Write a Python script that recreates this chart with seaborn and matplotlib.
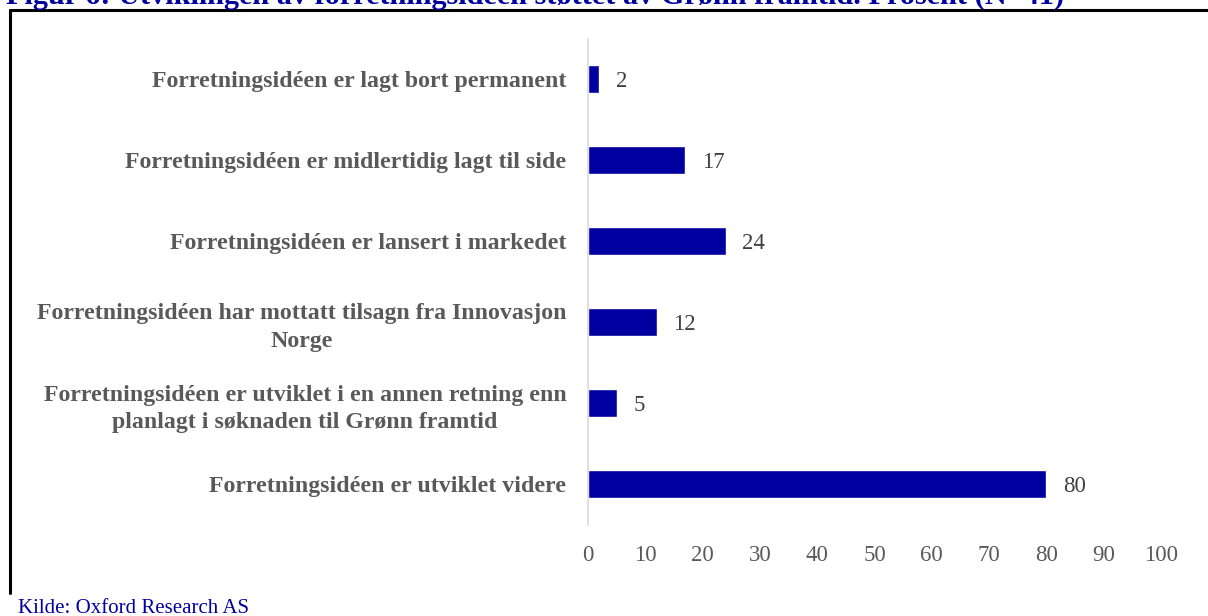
import matplotlib
matplotlib.use("Agg")
import matplotlib.pyplot as plt
import seaborn as sns
import pandas as pd
from matplotlib.lines import Line2D

categories = [
    "Forretningsidéen er lagt bort permanent",
    "Forretningsidéen er midlertidig lagt til side",
    "Forretningsidéen er lansert i markedet",
    "Forretningsidéen har mottatt tilsagn fra Innovasjon\nNorge",
    "Forretningsidéen er utviklet i en annen retning enn\nplanlagt i søknaden til Grønn framtid",
    "Forretningsidéen er utviklet videre",
]
values = [2, 17, 24, 12, 5, 80]
xticks = [0, 10, 20, 30, 40, 50, 60, 70, 80, 90, 100]

title = "Figur 6: Utviklingen av forretningsidéen støttet av Grønn framtid. Prosent (N=41)"
source = "Kilde: Oxford Research AS"

sns.set_theme(style="white")
plt.rcParams['font.family'] = ['Liberation Serif', 'DejaVu Serif']

W, H = 1208, 616
fig = plt.figure(figsize=(W / 100, H / 100), dpi=100)
ax = fig.add_axes([588 / W, 1 - 524.5 / H, 573 / W, 486 / H])

df = pd.DataFrame({"cat": categories, "val": values})
bar_color = "#0000A0"
sns.barplot(data=df, x="val", y="cat", orient="h", color=bar_color,
            width=0.35, saturation=1, ax=ax)

for p, v in zip(ax.patches, values):
    y = p.get_y() + p.get_height() / 2
    ax.text(v + 2.9, y, f"{v}", va="center_baseline", ha="left", fontsize=16.5, color="#404040")

ax.set_xlim(0, 100)
ax.set_ylim(5.5, -0.5)
ax.set_xticks(xticks)
ax.set_xticklabels([str(t) for t in xticks], fontsize=16.5, color="#595959")
ax.tick_params(axis="x", length=0, pad=15)
ax.tick_params(axis="y", length=0, pad=15.5)
ax.set_yticks(range(len(categories)))
ax.set_yticklabels(categories, fontsize=17.2, fontweight="bold", color="#595959",
                   ha="right", multialignment="center", linespacing=1.38)

ax.set_xlabel("")
ax.set_ylabel("")
for s in ["top", "right", "bottom"]:
    ax.spines[s].set_visible(False)
ax.spines["left"].set_color("#D9D9D9")
ax.spines["left"].set_linewidth(1.2)
ax.grid(False)

# frame (top and left borders)
fig.add_artist(Line2D([10 / W, 1.01], [1 - 9.5 / H, 1 - 9.5 / H], transform=fig.transFigure,
                      color="black", linewidth=2.2))
fig.add_artist(Line2D([10 / W, 10 / W], [1 - 9.5 / H, 1 - 593 / H], transform=fig.transFigure,
                      color="black", linewidth=2.2))

fig.text(6 / W, 1 - 4 / H, title, fontsize=21.8, fontweight="bold", color="#0000A0",
         ha="left", va="baseline")
fig.text(18 / W, 1 - 613 / H, source, fontsize=15, color="#0000A0", ha="left", va="baseline")

fig.savefig("out.png", dpi=100)
